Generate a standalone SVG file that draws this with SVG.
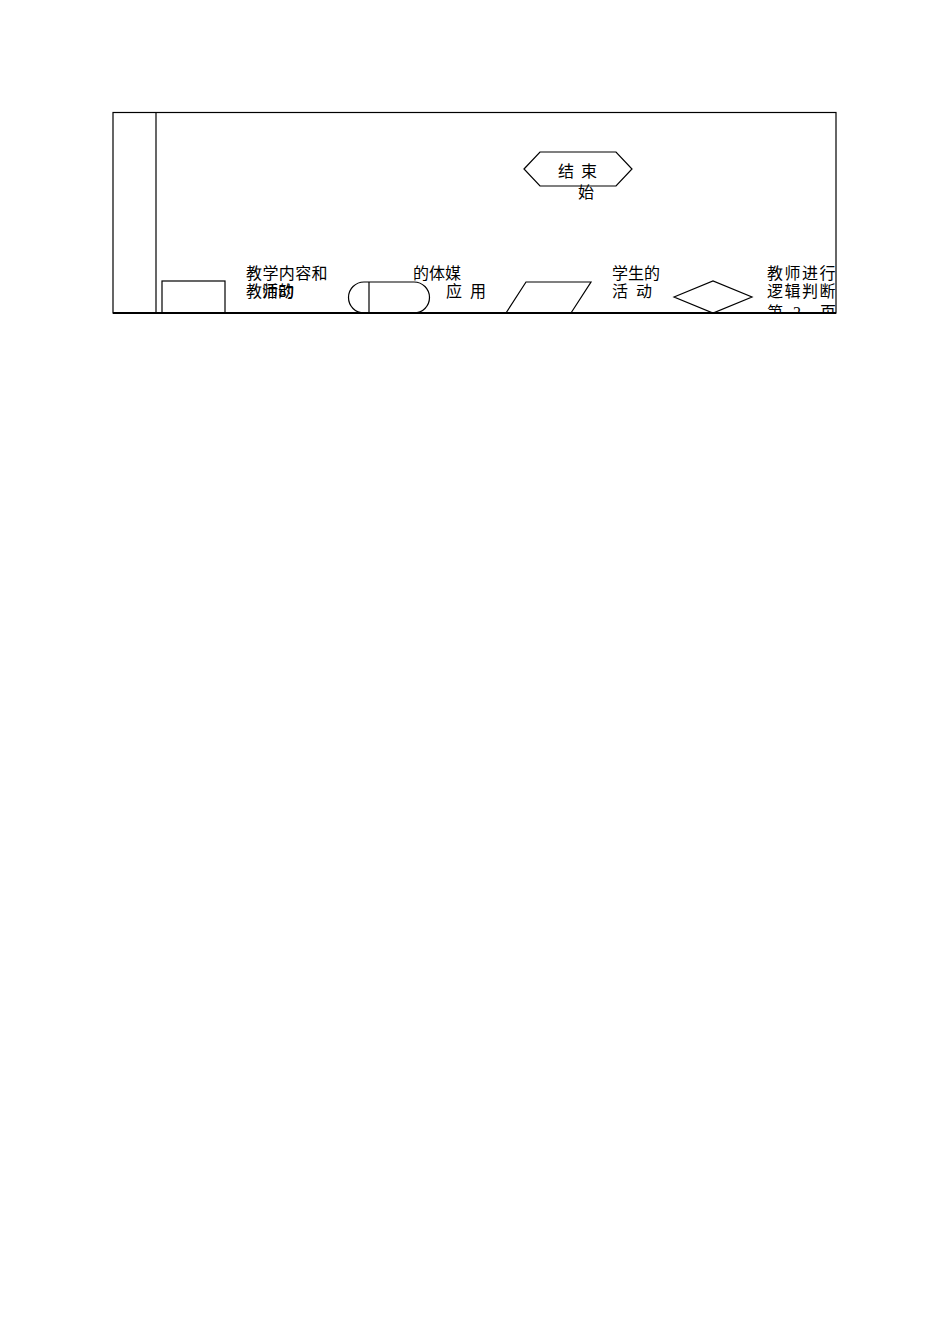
<svg xmlns="http://www.w3.org/2000/svg" width="950" height="1344" viewBox="0 0 950 1344">
<style>
.s{fill:none;stroke:#000;stroke-width:1.2}
.t{font-family:"Liberation Serif","Noto Sans CJK SC",serif;font-size:16px;fill:#000}
</style>
<defs><clipPath id="c"><rect x="0" y="0" width="950" height="312"/></clipPath></defs>
<rect width="950" height="1344" fill="#fff"/>
<g id="frame">
<rect class="s" x="113" y="112.5" width="723" height="200.5" stroke-width="1.5"/>
<line class="s" x1="156" y1="112" x2="156" y2="313"/>
<line x1="113" y1="313" x2="836" y2="313" stroke="#000" stroke-width="2"/>
</g>
<g id="end">
<polygon class="s" points="524,169 540,152 616,152 632,169 616,186 540,186"/>
<text class="t" y="177" font-size="17"><tspan x="558">结</tspan><tspan x="581">束</tspan></text>
<text class="t" x="578" y="198" font-size="17">始</text>
</g>
<g id="legend-rect">
<rect class="s" x="162" y="281" width="63" height="32"/>
<text class="t" x="246" y="279" letter-spacing="0.4">教学内容和</text>
<text class="t" y="297"><tspan x="246">教师的</tspan><tspan x="262">活动</tspan></text>
</g>
<g id="legend-media">
<path class="s" d="M364,282 H414 A15.5,15.5 0 0 1 414,313 H364 A15.5,15.5 0 0 1 364,282 Z"/>
<line class="s" x1="369" y1="282" x2="369" y2="313"/>
<text class="t" x="413" y="279">的体媒</text>
<text class="t" y="297"><tspan x="446">应</tspan><tspan x="470">用</tspan></text>
</g>
<g id="legend-student">
<polygon class="s" points="506,313 526,282 591,282 571,313"/>
<text class="t" x="612" y="279">学生的</text>
<text class="t" y="297"><tspan x="612">活</tspan><tspan x="636">动</tspan></text>
</g>
<g id="legend-decision">
<polygon class="s" points="674,297 713,281 752,297 713,313"/>
<text class="t" x="767" y="279" letter-spacing="1.5">教师进行</text>
<text class="t" x="767" y="297" letter-spacing="1.5">逻辑判断</text>
<text class="t" y="318" clip-path="url(#c)"><tspan x="767">第</tspan><tspan x="793">2</tspan><tspan x="820">页</tspan></text>
</g>
<g id="connectors"></g>
</svg>
